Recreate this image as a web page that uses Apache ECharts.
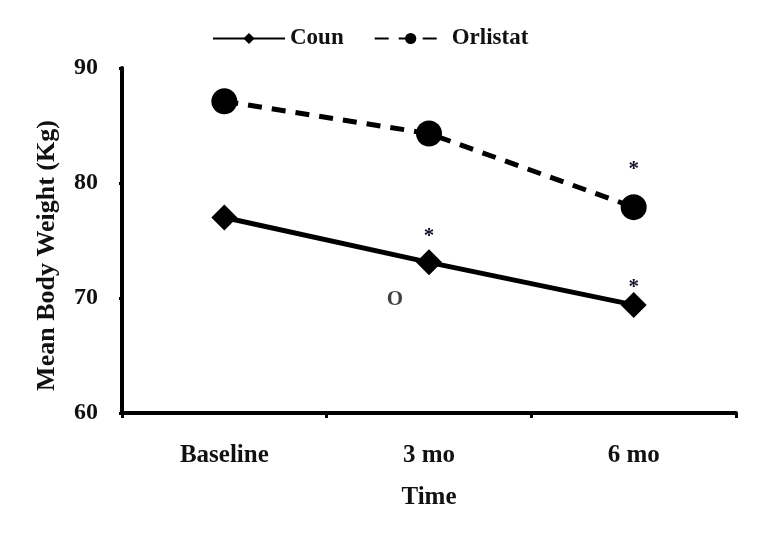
<!DOCTYPE html>
<html><head><meta charset="utf-8">
<script src="https://cdn.jsdelivr.net/npm/echarts@6/dist/echarts.min.js"></script>
<style>html,body{margin:0;padding:0;background:#fff}#c{width:771px;height:543px}</style>
</head><body><div id="c"></div>
<script>
const categories = ['Baseline', '3 mo', '6 mo'];
const counValues = [77.0, 73.1, 69.4];
const orlistatValues = [87.1, 84.3, 77.9];
const yTicks = [60, 70, 80, 90];
// significance marks per category
const counMarks = ['', '*', '*'];
const orlistatMarks = ['', '', '*'];
const counNote = ['', 'O', ''];

const font = '"Liberation Serif", "Times New Roman", serif';
// label placement (style, not data)
const counMarkDist = [0, 2, -6];
const orlMarkDist = [0, 0, 14];

const chart = echarts.init(document.getElementById('c'));

function withLabels(values, marks, dists) {
  return values.map((v, i) => {
    const item = { value: v };
    if (marks[i]) {
      item.label = { show: true, position: 'top', formatter: marks[i], distance: dists[i],
        fontFamily: font, fontSize: 21, color: '#10102a', fontWeight: 'bold' };
    }
    return item;
  });
}

const counData = withLabels(counValues, counMarks, counMarkDist);
const orlData = withLabels(orlistatValues, orlistatMarks, orlMarkDist);

chart.setOption({
  animation: false,
  backgroundColor: '#fff',
  legend: {
    top: 22, left: 207, itemGap: 30, itemWidth: 72, itemHeight: 14,
    textStyle: { fontFamily: font, fontSize: 23, fontWeight: 'bold', color: '#111' },
    data: ['Coun', 'Orlistat']
  },
  grid: { left: 122, right: 35, top: 68, bottom: 130 },
  xAxis: {
    type: 'category', data: categories, boundaryGap: true,
    name: 'Time', nameLocation: 'middle', nameGap: 72,
    nameTextStyle: { fontFamily: font, fontSize: 25, fontWeight: 'bold', color: '#111' },
    axisLine: { lineStyle: { color: '#000', width: 4 } },
    axisTick: { show: true, length: 5, lineStyle: { color: '#000', width: 3 } },
    axisLabel: { margin: 30, fontFamily: font, fontSize: 25, fontWeight: 'bold', color: '#111' }
  },
  yAxis: {
    type: 'value', min: yTicks[0], max: yTicks[yTicks.length - 1], interval: 10,
    name: 'Mean Body Weight (Kg)', nameLocation: 'middle', nameGap: 62, nameRotate: 90,
    nameTextStyle: { fontFamily: font, fontSize: 26, fontWeight: 'bold', color: '#111',
      padding: [0, 30, 0, 0] },
    axisLine: { show: true, lineStyle: { color: '#000', width: 4 } },
    axisTick: { show: true, length: 3, lineStyle: { color: '#000', width: 3 } },
    splitLine: { show: false },
    axisLabel: { margin: 24, fontFamily: font, fontSize: 24, fontWeight: 'bold', color: '#111' }
  },
  series: [
    {
      name: 'Coun', type: 'line', data: counData,
      symbol: 'diamond', symbolSize: [26, 26], color: '#000',
      lineStyle: { color: '#000', width: 5 },
      itemStyle: { color: '#000' }
    },
    {
      name: 'Orlistat', type: 'line', data: orlData,
      symbol: 'circle', symbolSize: 26, color: '#000',
      lineStyle: { color: '#000', width: 5, type: [14, 10] },
      itemStyle: { color: '#000' }
    },
    {
      name: 'note', type: 'scatter', symbolSize: 0, silent: true,
      data: counValues.map((v, i) => counNote[i] ? {
        value: [i, v],
        label: { show: true, formatter: counNote[i], position: 'bottom', offset: [-34, 22],
          fontFamily: font, fontSize: 21, fontWeight: 'bold', color: '#111' }
      } : null).filter(Boolean)
    }
  ]
});
</script></body></html>
